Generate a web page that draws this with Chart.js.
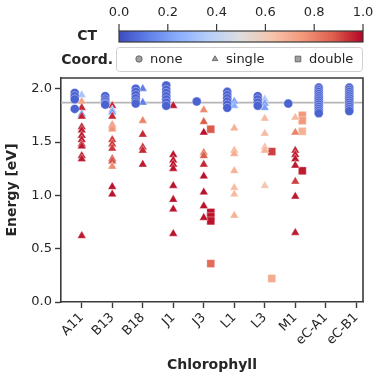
<!DOCTYPE html>
<html>
<head>
<meta charset="utf-8">
<script src="https://cdn.jsdelivr.net/npm/chart.js@4/dist/chart.umd.min.js"></script>
<style>
  body { margin: 0; background: #fff; }
  canvas { display: block; }
</style>
</head>
<body>
<canvas id="graphic" width="376" height="380"></canvas>
<script>
const categories = ['A11', 'B13', 'B18', 'J1', 'J3', 'L1', 'L3', 'M1', 'eC-A1', 'eC-B1'];
const ctTicks = [0.0, 0.2, 0.4, 0.6, 0.8, 1.0];
const energyTicks = [0.0, 0.5, 1.0, 1.5, 2.0];
const refEnergy = 1.87;

// [chlorophyll, energy (eV), CT]
const noneCoord = [
  ['A11', 1.96, 0.05], ['A11', 1.93, 0.05], ['A11', 1.90, 0.05], ['A11', 1.81, 0.05],
  ['B13', 1.93, 0.05], ['B13', 1.90, 0.05], ['B13', 1.88, 0.05], ['B13', 1.86, 0.05], ['B13', 1.85, 0.05],
  ['B18', 2.00, 0.05], ['B18', 1.97, 0.05], ['B18', 1.94, 0.05], ['B18', 1.91, 0.05], ['B18', 1.88, 0.05], ['B18', 1.86, 0.05],
  ['J1', 2.03, 0.05], ['J1', 1.99, 0.05], ['J1', 1.96, 0.05], ['J1', 1.93, 0.05], ['J1', 1.90, 0.05], ['J1', 1.87, 0.05], ['J1', 1.84, 0.05],
  ['J3', 1.88, 0.05],
  ['L1', 1.97, 0.05], ['L1', 1.94, 0.05], ['L1', 1.91, 0.05], ['L1', 1.88, 0.05], ['L1', 1.85, 0.05], ['L1', 1.82, 0.05],
  ['L3', 1.93, 0.05], ['L3', 1.90, 0.05], ['L3', 1.87, 0.05], ['L3', 1.84, 0.05],
  ['M1', 1.86, 0.05],
  ['eC-A1', 2.01, 0.05], ['eC-A1', 1.99, 0.05], ['eC-A1', 1.97, 0.05], ['eC-A1', 1.95, 0.05], ['eC-A1', 1.93, 0.05],
  ['eC-A1', 1.91, 0.05], ['eC-A1', 1.89, 0.05], ['eC-A1', 1.87, 0.05], ['eC-A1', 1.85, 0.05], ['eC-A1', 1.83, 0.05],
  ['eC-A1', 1.81, 0.05], ['eC-A1', 1.79, 0.05], ['eC-A1', 1.77, 0.05],
  ['eC-B1', 2.01, 0.05], ['eC-B1', 1.99, 0.05], ['eC-B1', 1.97, 0.05], ['eC-B1', 1.95, 0.05], ['eC-B1', 1.93, 0.05],
  ['eC-B1', 1.91, 0.05], ['eC-B1', 1.89, 0.05], ['eC-B1', 1.87, 0.05], ['eC-B1', 1.85, 0.05], ['eC-B1', 1.83, 0.05],
  ['eC-B1', 1.81, 0.05], ['eC-B1', 1.79, 0.05]
];

const singleCoord = [
  ['A11', 1.94, 0.32], ['A11', 1.88, 0.72], ['A11', 1.82, 0.95], ['A11', 1.76, 0.15], ['A11', 1.74, 0.96],
  ['A11', 1.64, 0.97], ['A11', 1.61, 0.97], ['A11', 1.56, 0.97], ['A11', 1.52, 0.97], ['A11', 1.48, 0.97],
  ['A11', 1.46, 0.97], ['A11', 1.37, 0.97], ['A11', 1.34, 0.97], ['A11', 0.62, 0.97],
  ['B13', 1.84, 0.95], ['B13', 1.80, 0.30], ['B13', 1.78, 0.20], ['B13', 1.74, 0.95], ['B13', 1.66, 0.80],
  ['B13', 1.64, 0.80], ['B13', 1.62, 0.76], ['B13', 1.52, 0.93], ['B13', 1.48, 0.93], ['B13', 1.44, 0.93],
  ['B13', 1.34, 0.93], ['B13', 1.32, 0.90], ['B13', 1.27, 0.78], ['B13', 1.08, 0.98], ['B13', 1.01, 0.98],
  ['B18', 2.00, 0.12], ['B18', 1.87, 0.12], ['B18', 1.70, 0.80], ['B18', 1.57, 0.95], ['B18', 1.45, 0.95],
  ['B18', 1.42, 0.95], ['B18', 1.29, 0.97],
  ['J1', 1.84, 0.97], ['J1', 1.38, 0.98], ['J1', 1.33, 0.98], ['J1', 1.29, 0.98], ['J1', 1.25, 0.98],
  ['J1', 1.09, 0.98], ['J1', 0.96, 0.98], ['J1', 0.87, 0.98], ['J1', 0.64, 0.98],
  ['J3', 1.80, 0.78], ['J3', 1.69, 0.88], ['J3', 1.59, 0.98], ['J3', 1.40, 0.82], ['J3', 1.37, 0.88],
  ['J3', 1.29, 0.95], ['J3', 1.18, 0.98], ['J3', 1.03, 0.98], ['J3', 0.90, 0.98], ['J3', 0.79, 0.98],
  ['L1', 1.88, 0.20], ['L1', 1.84, 0.25], ['L1', 1.63, 0.68], ['L1', 1.42, 0.68], ['L1', 1.39, 0.70],
  ['L1', 1.23, 0.68], ['L1', 1.07, 0.65], ['L1', 1.01, 0.65], ['L1', 0.81, 0.68],
  ['L3', 1.90, 0.35], ['L3', 1.86, 0.20], ['L3', 1.82, 0.20], ['L3', 1.72, 0.65], ['L3', 1.58, 0.65],
  ['L3', 1.45, 0.65], ['L3', 1.42, 0.68], ['L3', 1.09, 0.62],
  ['M1', 1.73, 0.65], ['M1', 1.59, 0.80], ['M1', 1.42, 0.95], ['M1', 1.38, 0.97], ['M1', 1.34, 0.97],
  ['M1', 1.28, 0.97], ['M1', 1.13, 0.92], ['M1', 0.99, 0.97], ['M1', 0.65, 0.97]
];

const doubleCoord = [
  ['J3', 1.62, 0.88], ['J3', 0.84, 0.98], ['J3', 0.80, 0.98], ['J3', 0.76, 0.98], ['J3', 0.36, 0.85],
  ['L3', 1.41, 0.92], ['L3', 0.22, 0.70],
  ['M1', 1.75, 0.75], ['M1', 1.70, 0.75], ['M1', 1.60, 0.68], ['M1', 1.23, 0.97]
];

// coolwarm colormap
const cwStops = [
  [0, [59, 76, 192]], [0.125, [98, 130, 234]], [0.25, [141, 176, 254]], [0.375, [184, 208, 249]],
  [0.5, [221, 221, 221]], [0.625, [245, 196, 173]], [0.75, [244, 154, 123]], [0.875, [222, 96, 77]],
  [1, [180, 4, 38]]
];
function coolwarm(t) {
  t = Math.max(0, Math.min(1, t));
  for (let i = 1; i < cwStops.length; i++) {
    if (t <= cwStops[i][0]) {
      const [a, ca] = cwStops[i - 1], [b, cb] = cwStops[i];
      const f = (t - a) / (b - a);
      const c = ca.map((v, k) => Math.round(v + (cb[k] - v) * f));
      return `rgb(${c[0]},${c[1]},${c[2]})`;
    }
  }
}

function makeSet(points, offset, style, radius) {
  return {
    data: points.map(p => ({ x: categories.indexOf(p[0]) + offset, y: p[1] })),
    pointStyle: style,
    pointRadius: radius,
    pointBackgroundColor: points.map(p => coolwarm(p[2])),
    pointBorderColor: 'rgba(255,255,255,0.6)',
    pointBorderWidth: 0.6,
    showLine: false
  };
}

const dark = '#262626';
const frameColor = '#3a3a3a';
const font = 'DejaVu Sans';

const extras = {
  id: 'extras',
  beforeDatasetsDraw(chart) {
    const { ctx, chartArea: a, scales } = chart;
    const y = scales.y.getPixelForValue(refEnergy);
    ctx.save();
    ctx.strokeStyle = '#b5b5b5';
    ctx.lineWidth = 1.8;
    ctx.beginPath();
    ctx.moveTo(a.left, y);
    ctx.lineTo(a.right, y);
    ctx.stroke();
    ctx.restore();
  },
  afterDraw(chart) {
    const { ctx, chartArea: a } = chart;
    ctx.save();
    // frame top & right
    ctx.strokeStyle = frameColor;
    ctx.lineWidth = 1.6;
    ctx.beginPath();
    ctx.moveTo(a.left, a.top);
    ctx.lineTo(a.right, a.top);
    ctx.lineTo(a.right, a.bottom);
    ctx.stroke();

    // colorbar
    const cbL = a.left + 58, cbR = a.right, cbT = 31, cbB = 42;
    const g = ctx.createLinearGradient(cbL, 0, cbR, 0);
    for (let i = 0; i <= 40; i++) g.addColorStop(i / 40, coolwarm(i / 40));
    ctx.fillStyle = g;
    ctx.fillRect(cbL, cbT, cbR - cbL, cbB - cbT);
    ctx.strokeStyle = frameColor;
    ctx.lineWidth = 1.2;
    ctx.strokeRect(cbL, cbT, cbR - cbL, cbB - cbT);
    ctx.fillStyle = dark;
    ctx.font = `13px "${font}"`;
    ctx.textAlign = 'center';
    ctx.textBaseline = 'middle';
    ctx.lineWidth = 1.2;
    ctTicks.forEach(t => {
      const x = cbL + t * (cbR - cbL);
      ctx.beginPath();
      ctx.moveTo(x, cbT);
      ctx.lineTo(x, cbT - 7);
      ctx.stroke();
      ctx.fillText(t.toFixed(1), x, 13);
    });
    ctx.font = `bold 14px "${font}"`;
    ctx.textAlign = 'right';
    ctx.fillText('CT', cbL - 22, 36);

    // coordination legend
    const lgL = cbL - 3, lgR = cbR, lgT = 47, lgB = 71;
    ctx.strokeStyle = '#d0d0d0';
    ctx.lineWidth = 1;
    ctx.beginPath();
    ctx.roundRect(lgL + 0.5, lgT + 0.5, lgR - lgL - 1, lgB - lgT, 3);
    ctx.stroke();
    ctx.fillStyle = dark;
    ctx.fillText('Coord.', lgL - 3, 60);
    ctx.font = `13px "${font}"`;
    ctx.textAlign = 'left';
    const items = [['circle', 'none', lgL + 23], ['triangle', 'single', lgL + 99], ['rect', 'double', lgL + 182]];
    items.forEach(([style, label, x]) => {
      ctx.fillStyle = '#a0a0a0';
      ctx.strokeStyle = '#555';
      ctx.lineWidth = 0.8;
      Chart.helpers.drawPoint(ctx, { pointStyle: style, radius: style === 'rect' ? 4 : 3.2, borderWidth: 0.8 }, x, 59);
      ctx.fillStyle = dark;
      ctx.fillText(label, x + 11, 59.5);
    });
    ctx.restore();
  }
};

const graphic = document.getElementById('graphic');
new Chart(graphic, {
  type: 'scatter',
  data: {
    datasets: [
      makeSet(noneCoord, -0.23, 'circle', 4.5),
      makeSet(singleCoord, 0, 'triangle', 5),
      makeSet(doubleCoord, 0.23, 'rect', 5.6)
    ]
  },
  options: {
    responsive: false,
    animation: false,
    layout: { padding: { top: 78, right: 13, left: 0, bottom: 0 } },
    plugins: { legend: { display: false }, tooltip: { enabled: false } },
    scales: {
      x: {
        type: 'linear',
        min: -0.68,
        max: 9.22,
        afterBuildTicks: s => { s.ticks = categories.map((c, i) => ({ value: i })); },
        afterFit: s => { s.height = 78; },
        ticks: {
          callback: v => categories[v],
          maxRotation: 45,
          minRotation: 45,
          color: dark,
          padding: 2,
          font: { family: font, size: 13 }
        },
        grid: { drawOnChartArea: false, tickLength: 6, tickWidth: 1.4, tickColor: frameColor },
        border: { color: frameColor, width: 1.6 },
        title: {
          display: true,
          text: 'Chlorophyll',
          color: dark,
          padding: { top: 0, bottom: 6 },
          font: { family: font, size: 14, weight: 'bold' }
        }
      },
      y: {
        min: 0,
        max: 2.10,
        afterBuildTicks: s => { s.ticks = energyTicks.map(v => ({ value: v })); },
        afterFit: s => { s.width = 61; },
        ticks: {
          callback: v => v.toFixed(1),
          color: dark,
          padding: 3,
          font: { family: font, size: 13 }
        },
        grid: { drawOnChartArea: false, tickLength: 6, tickWidth: 1.4, tickColor: frameColor },
        border: { color: frameColor, width: 1.6 },
        title: {
          display: true,
          text: 'Energy [eV]',
          color: dark,
          padding: { top: 4, bottom: 0 },
          font: { family: font, size: 14, weight: 'bold' }
        }
      }
    }
  },
  plugins: [extras]
});
</script>
</body>
</html>
